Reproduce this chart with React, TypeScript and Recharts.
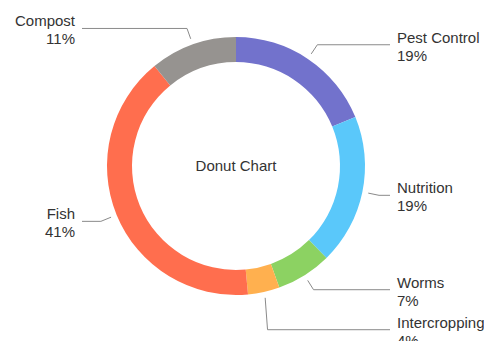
import React from 'react';
import { PieChart, Pie, Cell, Label } from 'recharts';

const categories = ['Pest Control', 'Nutrition', 'Worms', 'Intercropping', 'Fish', 'Compost'];
const values = [19, 19, 7, 4, 41, 11];
const percentLabels = ['19%', '19%', '7%', '4%', '41%', '11%'];
const colors = ['#7272CC', '#5AC8FA', '#8CD262', '#FFB04F', '#FF6E4E', '#969390'];
const centerTitle = 'Donut Chart';

const data = categories.map((name, i) => ({ name, value: values[i], pct: percentLabels[i] }));

const CX = 236;
const CY = 166;
const OUTER = 129;
const INNER = 104;
const START_R = OUTER + 6;
const ELBOW_R = OUTER + 17;
const MIN_GAP = 40;
const FONT = '"Liberation Sans", Arial, Helvetica, sans-serif';
const TEXT_COLOR = '#333333';
const LINE_COLOR = '#8a8a8a';

// compute label line y positions with simple collision avoidance
function computeLabelYs(): number[] {
  const total = values.reduce((a, b) => a + b, 0);
  let start = 90;
  const info = values.map((v, i) => {
    const delta = (v / total) * 360;
    const mid = start - delta / 2;
    start -= delta;
    const rad = (mid * Math.PI) / 180;
    const y = CY - ELBOW_R * Math.sin(rad);
    const right = Math.cos(rad) >= 0;
    return { i, y, right };
  });
  const result: number[] = new Array(values.length).fill(0);
  [true, false].forEach((side) => {
    const group = info.filter((d) => d.right === side).sort((a, b) => a.y - b.y);
    let prev = -Infinity;
    group.forEach((d) => {
      const y = Math.max(d.y, prev + MIN_GAP);
      result[d.i] = y;
      prev = y;
    });
  });
  return result;
}

const labelYs = computeLabelYs();

const renderLabel = (props: any) => {
  const { cx, cy, midAngle, index } = props;
  const rad = (midAngle * Math.PI) / 180;
  const cos = Math.cos(rad);
  const sin = Math.sin(rad);
  const right = cos >= 0;
  const sx = cx + START_R * cos;
  const sy = cy - START_R * sin;
  const ex = cx + ELBOW_R * cos;
  const ly = labelYs[index];
  const lineEnd = right ? cx + 154 : cx - 154;
  const textX = right ? lineEnd + 7 : lineEnd - 7;
  const anchor = right ? 'start' : 'end';
  return (
    <g key={`lbl-${index}`}>
      <polyline
        points={`${sx},${sy} ${ex},${ly} ${lineEnd},${ly}`}
        fill="none"
        stroke={LINE_COLOR}
        strokeWidth={1}
      />
      <text x={textX} y={ly - 2} textAnchor={anchor} fill={TEXT_COLOR} fontSize={15} fontFamily={FONT}>
        {categories[index]}
      </text>
      <text x={textX} y={ly + 16} textAnchor={anchor} fill={TEXT_COLOR} fontSize={15} fontFamily={FONT}>
        {percentLabels[index]}
      </text>
    </g>
  );
};

const renderCenter = (props: any) => {
  const vb = props.viewBox || {};
  const x = vb.cx ?? CX;
  const y = vb.cy ?? CY;
  return (
    <text x={x} y={y + 5} textAnchor="middle" fill={TEXT_COLOR} fontSize={15} fontFamily={FONT}>
      {centerTitle}
    </text>
  );
};

export default function App() {
  return (
    <div style={{ margin: -8, width: 492, height: 349, background: '#fff' }}>
      <PieChart width={492} height={349} margin={{ top: 0, right: 0, bottom: 0, left: 0 }}>
        <Pie
          data={data}
          dataKey="value"
          nameKey="name"
          cx={CX}
          cy={CY}
          innerRadius={INNER}
          outerRadius={OUTER}
          startAngle={90}
          endAngle={-270}
          stroke="none"
          label={renderLabel}
          labelLine={false}
          isAnimationActive={false}
        >
          {data.map((d, i) => (
            <Cell key={d.name} fill={colors[i]} />
          ))}
          <Label content={renderCenter} position="center" />
        </Pie>
      </PieChart>
    </div>
  );
}
